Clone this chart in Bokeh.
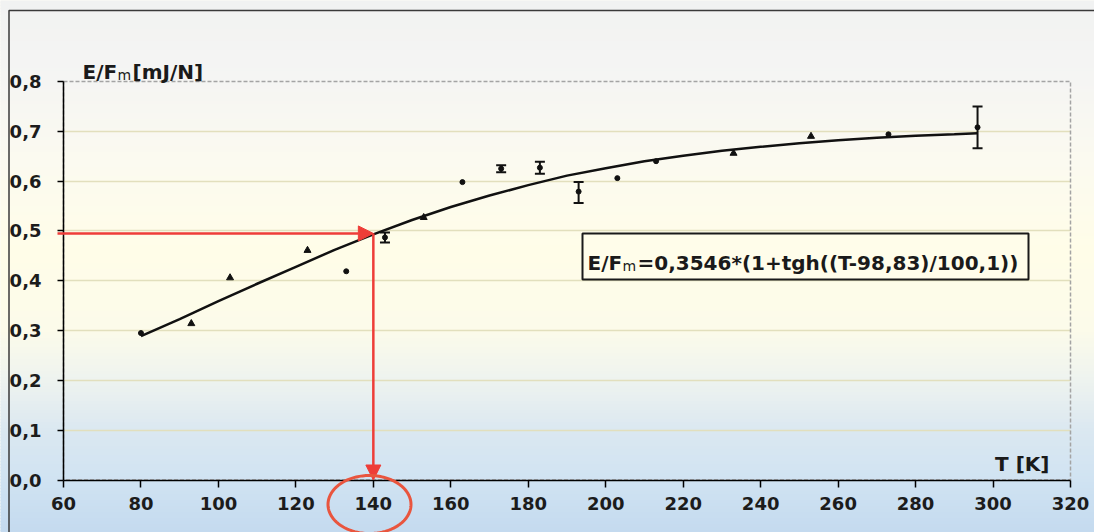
import numpy as np
from bokeh.plotting import figure
from bokeh.models import (Whisker, TeeHead, Arrow, NormalHead, Label, BoxAnnotation,
                          PolyAnnotation, FixedTicker, ColumnDataSource, Range1d)
from bokeh.embed import file_html
from bokeh.resources import INLINE

# ---------------- data ----------------
tri_T = [93, 103, 123, 153, 233, 253]
tri_E = [0.314, 0.406, 0.461, 0.527, 0.656, 0.690]
dot_T = [80, 133, 143, 163, 173, 183, 193, 203, 213, 273, 296]
dot_E = [0.295, 0.419, 0.487, 0.598, 0.625, 0.627, 0.579, 0.606, 0.640, 0.694, 0.708]
err_T = [143, 173, 183, 193, 296]
err_E = [0.487, 0.625, 0.627, 0.577, 0.708]
err_d = [0.010, 0.007, 0.012, 0.021, 0.042]
fit_T = [80, 90, 100, 110, 120, 130, 140, 150, 160, 170, 180, 190, 200, 210,
         220, 230, 240, 250, 260, 270, 280, 290, 296]
fit_E = [0.289, 0.323, 0.359, 0.394, 0.428, 0.462, 0.493, 0.522, 0.548, 0.571,
         0.592, 0.611, 0.626, 0.640, 0.651, 0.661, 0.669, 0.676, 0.682, 0.687,
         0.691, 0.694, 0.696]
x_ticks = [60, 80, 100, 120, 140, 160, 180, 200, 220, 240, 260, 280, 300, 320]
y_ticks = [0.0, 0.1, 0.2, 0.3, 0.4, 0.5, 0.6, 0.7, 0.8]
y_tick_labels = ["0,0", "0,1", "0,2", "0,3", "0,4", "0,5", "0,6", "0,7", "0,8"]
read_T = 140
read_E = 0.495
y_title = ["E/F", "m", "[mJ/N]"]
x_title = "T [K]"
eq_text = ["E/F", "m", "=0,3546*(1+tgh((T-98,83)/100,1))"]

# ---------------- layout ----------------
W, H = 1094, 532
FL, FR, FT, FB = 63, 1070, 81, 479.5        # plot-area edges (px)
X0, X1, Y0, Y1 = 60, 320, 0.0, 0.8
sx = (FR - FL) / (X1 - X0)
sy = (FB - FT) / (Y1 - Y0)
def dx(px):
    return X0 + (px - FL) / sx
def dy(py):
    return Y0 + (FB - py) / sy

p = figure(width=W, height=H, output_backend="svg", toolbar_location=None,
           x_range=Range1d(dx(0), dx(W)), y_range=Range1d(dy(H), dy(0)),
           min_border_left=0, min_border_right=0, min_border_top=0, min_border_bottom=0)
p.border_fill_color = "#eef3f4"
p.background_fill_color = "#fcfbee"
p.outline_line_color = None

# gradient background bands
stops = [(0, "#f1f2f2"), (80, "#f5f5f3"), (160, "#fbfaf0"), (250, "#fffde8"),
         (330, "#fcfbea"), (380, "#eef3ef"), (430, "#dbe8f1"), (480, "#d0e3f2"),
         (532, "#c4daef")]
def hex2rgb(h):
    return np.array([int(h[i:i + 2], 16) for i in (1, 3, 5)], float)
sp = np.array([s[0] for s in stops], float)
sc = np.array([hex2rgb(s[1]) for s in stops])
step = 3
for y in range(-4, H + 4, step):
    c = [np.interp(y + step / 2, sp, sc[:, k]) for k in range(3)]
    col = "#%02x%02x%02x" % tuple(int(round(v)) for v in c)
    p.add_layout(BoxAnnotation(left=dx(-20), right=dx(W + 20), top=dy(y - 0.6),
                               bottom=dy(y + step + 0.6), fill_color=col, fill_alpha=1.0,
                               line_color=None, level="image"))

# outer chart border (top and left)
p.add_layout(BoxAnnotation(left=dx(8.5), right=dx(W + 40), top=dy(10), bottom=dy(H + 40),
                           fill_alpha=0, line_color="#3a3a3a", line_alpha=1.0,
                           line_width=1.5, level="underlay"))
# dashed plot-area frame
p.add_layout(BoxAnnotation(left=X0, right=X1, bottom=Y0, top=Y1, fill_alpha=0,
                           line_color="#a4a4a4", line_alpha=1.0, line_dash="4 2",
                           line_width=1.5, level="underlay"))

# axes, fixed inside the canvas
p.xaxis.fixed_location = Y0
p.yaxis.fixed_location = X0
p.xaxis.bounds = (X0, X1)
p.yaxis.bounds = (Y0, Y1)
for ax in (p.xaxis[0], p.yaxis[0]):
    ax.axis_line_color = "black"
    ax.axis_line_width = 1.5
    ax.major_tick_line_color = "black"
    ax.major_tick_line_width = 1.5
    ax.major_tick_in = 0
    ax.minor_tick_line_color = None
    ax.major_label_text_font = "DejaVu Sans"
    ax.major_label_text_font_style = "bold"
    ax.major_label_text_font_size = "18px"
    ax.major_label_text_color = "#1c1c1c"
p.xaxis.ticker = FixedTicker(ticks=x_ticks)
p.yaxis.ticker = FixedTicker(ticks=y_ticks)
p.yaxis.major_label_overrides = {t: l for t, l in zip(y_ticks, y_tick_labels)}
p.xaxis.major_tick_out = 7
p.yaxis.major_tick_out = 6
p.xaxis.major_label_standoff = 10
p.yaxis.major_label_standoff = 16

p.xgrid.visible = False
p.ygrid.ticker = FixedTicker(ticks=y_ticks[1:-1])
p.ygrid.grid_line_color = "#e2dfbd"
p.ygrid.grid_line_width = 1.5
try:
    p.ygrid.cross_bounds = (X0, X1)
except Exception:
    pass
p.ygrid.bounds = (Y0, Y1)

# fitted curve
p.line(fit_T, fit_E, line_color="#111111", line_width=2.5)

# error bars
esrc = ColumnDataSource(dict(T=err_T,
                             up=[e + d for e, d in zip(err_E, err_d)],
                             lo=[e - d for e, d in zip(err_E, err_d)]))
p.add_layout(Whisker(source=esrc, base="T", upper="up", lower="lo",
                     line_color="#111111", line_width=2,
                     upper_head=TeeHead(size=10, line_width=2, line_color="#111111"),
                     lower_head=TeeHead(size=10, line_width=2, line_color="#111111"),
                     level="glyph"))

# data points
p.scatter(tri_T, tri_E, marker="triangle", size=7, color="#111111")
p.scatter(dot_T, dot_E, marker="circle", size=5, color="#111111")

# red reading arrows
red = "#ee3d38"
p.add_layout(Arrow(x_start=dx(FL - 6), y_start=read_E, x_end=read_T, y_end=read_E,
                   line_color=red, line_width=2.5,
                   end=NormalHead(size=15, fill_color=red, line_color=red)))
p.add_layout(Arrow(x_start=read_T, y_start=read_E, x_end=read_T, y_end=Y0,
                   line_color=red, line_width=2.5,
                   end=NormalHead(size=15, fill_color=red, line_color=red)))

# red ellipse round the 140 tick label
t = np.linspace(0, 2 * np.pi, 160)
cx, cy = dx(369), dy(504)
rx, ry = 41.5 / sx, 29 / sy
p.add_layout(PolyAnnotation(xs=list(cx + rx * np.cos(t)), ys=list(cy + ry * np.sin(t)),
                            fill_alpha=0, line_color="#e9553e", line_alpha=1.0,
                            line_width=3, level="overlay"))

# equation box
p.add_layout(BoxAnnotation(left=dx(582), right=dx(1028), top=dy(233), bottom=dy(279),
                           fill_color="#fffdea", fill_alpha=1.0,
                           line_color="#1a1a1a", line_alpha=1.0, line_width=2,
                           level="annotation"))

def subscript_label(parts, x, y, offsets):
    big = dict(text_font="DejaVu Sans", text_font_style="bold", text_font_size="20px",
               text_color="#1a1a1a", text_baseline="alphabetic")
    small = dict(text_font="DejaVu Sans", text_font_style="normal", text_font_size="14px",
                 text_color="#1a1a1a", text_baseline="alphabetic")
    p.add_layout(Label(x=x, y=y, text=parts[0], **big))
    p.add_layout(Label(x=x, y=y - 3 / sy, x_offset=offsets[0], text=parts[1], **small))
    p.add_layout(Label(x=x, y=y, x_offset=offsets[1], text=parts[2], **big))

subscript_label(eq_text, dx(587), dy(262), (35, 50))
subscript_label(y_title, dx(82), dy(71), (35, 50))

p.add_layout(Label(x=dx(1049), y=dy(463), text=x_title, text_align="right",
                   text_font="DejaVu Sans", text_font_style="bold", text_font_size="20px",
                   text_color="#1a1a1a", text_baseline="alphabetic"))

open("out.html", "w").write(file_html(p, INLINE))
